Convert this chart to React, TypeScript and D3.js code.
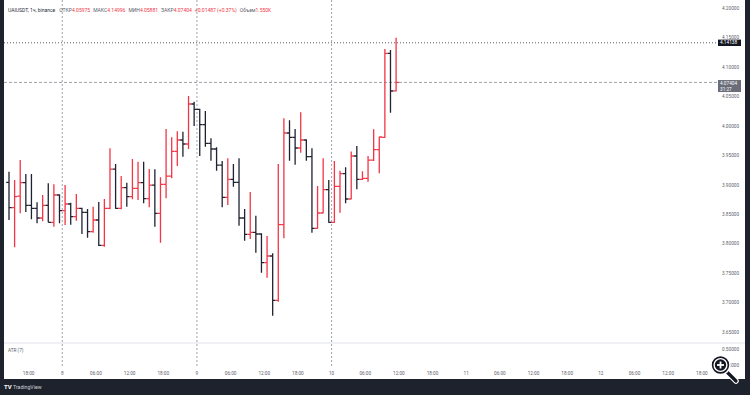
import React from "react";
import * as d3 from "d3";

const opens = [3.9043,3.8612,3.8810,3.9037,3.8652,3.8601,3.8437,3.8652,3.8363,3.8828,
3.8561,3.8675,3.8459,3.8601,3.8533,3.8205,3.8403,3.7972,3.8601,3.9269,
3.8601,3.8952,3.8799,3.8941,3.9037,3.8765,3.8997,3.8516,3.9009,3.9150,
3.9569,3.9762,3.9694,4.0374,4.0283,4.0023,3.9705,3.9609,3.9337,3.8788,
3.9094,3.9043,3.8437,3.8159,3.8193,3.8165,3.7678,3.7791,3.7038,3.8323,
3.9881,3.9807,3.9626,3.9762,3.9479,3.8261,3.8522,3.8918,3.8363,3.8975,
3.9190,3.8760,3.9490,3.9094,3.9111,3.9422,3.9598,3.9808,4.1235,4.05975];

const highs = [3.9224,3.9082,3.9422,3.9184,3.9184,3.8703,3.8828,3.9026,3.9009,3.8839,
3.8997,3.8697,3.8845,3.8610,3.8590,3.8629,3.8709,3.8760,3.9621,3.9354,
3.9150,3.9037,3.9439,3.9394,3.9394,3.9269,3.9264,3.9128,3.9949,3.9807,
3.9909,3.9904,4.0510,4.0413,4.0295,4.0255,3.9790,3.9637,3.9405,3.9451,
3.9354,3.9451,3.8590,3.8878,3.8476,3.8176,3.8131,3.7836,3.9354,4.0130,
4.0096,3.9949,4.0232,3.9773,3.9621,3.8980,3.9451,3.9082,3.9405,3.9241,
3.9298,3.9569,3.9660,3.9230,3.9490,3.9943,3.9819,4.1308,4.1291,4.14996];

const lows = [3.8403,3.7938,3.8516,3.8539,3.8414,3.8346,3.8380,3.8363,3.8289,3.8346,
3.8318,3.8323,3.8391,3.8165,3.8103,3.8188,3.7961,3.7950,3.8584,3.8595,
3.8584,3.8629,3.8754,3.8743,3.8686,3.8618,3.8289,3.8018,3.8771,3.9111,
3.9320,3.9479,3.9609,4.0000,3.9490,3.9649,3.9411,3.9241,3.8618,3.8658,
3.8969,3.8306,3.8052,3.8080,3.7848,3.7508,3.7423,3.6777,3.7015,3.8091,
3.9411,3.9343,3.9547,3.9411,3.8188,3.8255,3.8516,3.8357,3.8357,3.8527,
3.8686,3.8754,3.8924,3.9082,3.9054,3.9405,3.9196,3.9800,4.0226,4.05881];

const closes = [3.8612,3.8799,3.9037,3.8652,3.8601,3.8437,3.8652,3.8363,3.8828,3.8561,
3.8675,3.8459,3.8601,3.8533,3.8205,3.8403,3.7972,3.8601,3.9269,3.8601,
3.8952,3.8799,3.8941,3.9037,3.8765,3.8997,3.8516,3.9009,3.9150,3.9569,
3.9762,3.9694,4.0374,4.0283,4.0023,3.9705,3.9609,3.9337,3.8788,3.9094,
3.9043,3.8437,3.8159,3.8193,3.8165,3.7678,3.7791,3.7038,3.8323,3.9881,
3.9807,3.9626,3.9762,3.9479,3.8261,3.8522,3.8918,3.8363,3.8975,3.9190,
3.8760,3.9490,3.9094,3.9111,3.9422,3.9598,3.9813,4.1235,4.0595,4.07404];

const timeLabels = ["18:00","8","06:00","12:00","18:00","9","06:00","12:00","18:00","10","06:00","12:00","18:00","11","06:00","12:00","18:00","12","06:00","12:00","18:00"];
const dayLabels = ["8","9","10","11","12"];
const priceTicks = [4.20,4.15,4.10,4.05,4.00,3.95,3.90,3.85,3.80,3.75,3.70,3.65];
const atrTicks = ["0.50000","0.25000"];
const crosshairPrice = 4.14138;
const lastPrice = 4.07404;
const countdown = "31:27";

const header = {
  title: "UAIUSDT, 1ч, binance",
  fields: [["ОТКР","4.05975"],["МАКС","4.14996"],["МИН","4.05881"],["ЗАКР","4.07404"]],
  change: "+0.01487 (+0.37%)",
  volLabel: "Объем",
  vol: "1.550K",
};

const UP = "#f23645";
const DOWN = "#1f2331";
const FONT = "Roboto, 'Liberation Sans', sans-serif";

export default function App() {
  const W = 750, H = 395;
  const x = d3.scaleLinear().domain([0, 69]).range([9, 396.1]);
  const y = d3.scaleLinear().domain([3.65, 4.2]).range([332, 8.3]);
  const atrY = d3.scaleLinear().domain([0, 0.5]).range([365, 349]);
  const tick = 2.8;
  const labelIdx = (k: number) => 3.5 + 6 * k;
  const lastIdx = opens.length - 1;

  const bars = opens.map((o, i) => {
    const cx = x(i);
    const up = closes[i] >= o;
    const p = d3.path();
    p.moveTo(cx, y(highs[i]));
    p.lineTo(cx, y(lows[i]));
    p.moveTo(cx - tick, y(o));
    p.lineTo(cx, y(o));
    p.moveTo(cx, y(closes[i]));
    p.lineTo(cx + tick, y(closes[i]));
    return <path key={i} d={p.toString()} stroke={up ? UP : DOWN} strokeWidth={1.3} fill="none" />;
  });

  const seps = timeLabels
    .map((t, k) => ({ t, i: labelIdx(k) }))
    .filter((d) => dayLabels.includes(d.t) && d.i <= lastIdx);

  return (
    <svg width={W} height={H} style={{ position: "absolute", left: 0, top: 0 }} fontFamily={FONT}>
      <rect x={0} y={0} width={W} height={H} fill="#1e222d" />
      <rect x={4} y={0} width={741} height={379} fill="#ffffff" />
      {seps.map((d) => (
        <line key={d.t} x1={x(d.i)} x2={x(d.i)} y1={0} y2={368} stroke="#9598a1" strokeWidth={0.9} strokeDasharray="2,2" />
      ))}
      <line x1={4} x2={745} y1={343} y2={343} stroke="#e0e3eb" strokeWidth={1} />
      <line x1={4} x2={718} y1={y(crosshairPrice)} y2={y(crosshairPrice)} stroke="#434651" strokeWidth={0.9} strokeDasharray="1,2" />
      <line x1={4} x2={718} y1={y(lastPrice)} y2={y(lastPrice)} stroke="#9598a1" strokeWidth={0.9} strokeDasharray="3,2" />
      {bars}
      {priceTicks.map((p) => (
        <text key={p} x={722} y={y(p)} dy="0.35em" fontSize={4.7} fill="#5d606b">{p.toFixed(5)}</text>
      ))}
      {atrTicks.map((t, k) => (
        <text key={t} x={722} y={atrY(k === 0 ? 0.5 : 0)} dy="0.35em" fontSize={4.7} fill="#5d606b">{t}</text>
      ))}
      <rect x={718} y={y(crosshairPrice) - 3.2} width={23} height={6.4} fill="#131722" />
      <text x={720} y={y(crosshairPrice)} dy="0.35em" fontSize={4.7} fill="#ffffff">{crosshairPrice.toFixed(5)}</text>
      <rect x={718} y={y(lastPrice) - 2.4} width={23} height={12} fill="#6a6d78" />
      <text x={720} y={y(lastPrice) + 1.4} dy="0.35em" fontSize={4.7} fill="#ffffff">{lastPrice.toFixed(5)}</text>
      <text x={720} y={y(lastPrice) + 7} dy="0.35em" fontSize={4.7} fill="#ffffff">{countdown}</text>
      {timeLabels.map((t, k) => (
        <text key={k} x={x(labelIdx(k))} y={373} dy="0.35em" textAnchor="middle" fontSize={4.7} fill="#5d606b">{t}</text>
      ))}
      <text x={8} y={350} dy="0.35em" fontSize={4.7} fill="#5d606b">ATR (7)</text>
      <text x={8} y={10} dy="0.35em" fontSize={5} fill="#2a2e39">
        <tspan>{header.title}</tspan>
        {header.fields.map(([l, v], k) => (
          <React.Fragment key={k}>
            <tspan dx={k === 0 ? 4 : 3} fill="#5d606b">{l}</tspan>
            <tspan fill={UP}>{v}</tspan>
          </React.Fragment>
        ))}
        <tspan dx={3} fill={UP}>{header.change}</tspan>
        <tspan dx={3} fill="#5d606b">{header.volLabel}</tspan>
        <tspan fill={UP}>{header.vol}</tspan>
      </text>
      <g>
        <line x1={726} y1={371} x2={736} y2={381} stroke="#ffffff" strokeWidth={5.5} strokeLinecap="round" />
        <line x1={726} y1={371} x2={736} y2={381} stroke="#131722" strokeWidth={3.2} strokeLinecap="round" />
        <circle cx={720.5} cy={365} r={9.5} fill="#131722" stroke="#ffffff" strokeWidth={1.6} />
        <circle cx={720.5} cy={365} r={6.4} fill="#131722" stroke="#ffffff" strokeWidth={1.4} />
        <line x1={717} x2={724} y1={365} y2={365} stroke="#ffffff" strokeWidth={1.8} />
        <line x1={720.5} x2={720.5} y1={361.5} y2={368.5} stroke="#ffffff" strokeWidth={1.8} />
      </g>
      <g>
        <text x={4} y={387} dy="0.35em" fontSize={6} fontWeight="bold" fill="#ffffff">TV</text>
        <text x={13} y={387} dy="0.35em" fontSize={5.2} fill="#d1d4dc">TradingView</text>
      </g>
    </svg>
  );
}
